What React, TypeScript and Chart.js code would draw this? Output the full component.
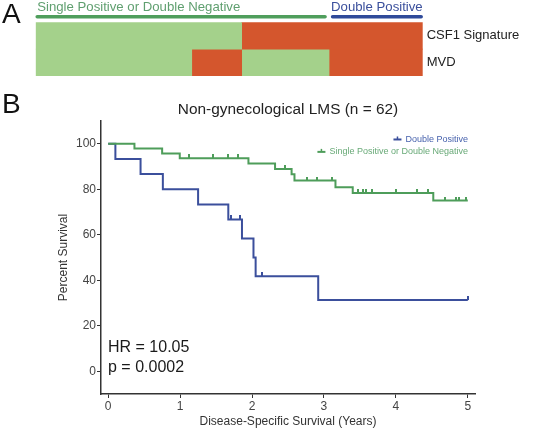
import React, { useEffect, useRef } from 'react';
import { Chart, registerables } from 'chart.js';

Chart.register(...registerables);

const FONT = '"Liberation Sans", Arial, Helvetica, sans-serif';

// ---------- Panel A data ----------
const heatRows = ['CSF1 Signature', 'MVD'];
const csf1Runs: [string, number][] = [['Low', 33], ['High', 29]];
const mvdRuns: [string, number][] = [['Low', 25], ['High', 8], ['Low', 14], ['High', 15]];
const groupNames = ['Single Positive or Double Negative', 'Double Positive'];
const groupSizes = [47, 15];

// ---------- Panel B data ----------
const kmTitle = 'Non-gynecological LMS (n = 62)';
const seriesLabels = ['Double Positive', 'Single Positive or Double Negative'];

const dpTimes = [0, 0.10, 0.45, 0.76, 1.25, 1.67, 1.86, 2.02, 2.05, 2.92, 5.0];
const dpSurv = [100, 93.3, 86.7, 80.0, 73.3, 66.7, 58.3, 50.0, 41.7, 31.3, 31.3];
const dpCensor = [1.71, 1.83, 2.14, 5.0];

const spTimes = [0, 0.365, 0.75, 0.995, 1.95, 2.32, 2.55, 2.59, 3.16, 3.40, 4.52, 5.0];
const spSurv = [100, 97.9, 95.7, 93.6, 91.3, 88.9, 86.6, 83.8, 80.9, 78.3, 75.0, 75.0];
const spCensor = [1.13, 1.46, 1.67, 1.81, 2.46, 2.76, 2.90, 3.11, 3.47, 3.54, 3.58, 3.67, 4.0, 4.29, 4.45, 4.68, 4.83, 4.88, 4.98];

const xTicks = [0, 1, 2, 3, 4, 5];
const yTicks = [0, 20, 40, 60, 80, 100];
const statLines = ['HR = 10.05', 'p = 0.0002'];

// ---------- styles ----------
const HEAT_GREEN = '#a4d18b';
const HEAT_RED = '#d4562d';
const GROUP_BAR = ['#4f9e5c', '#2f4a9a'];
const GROUP_TEXT = ['#5f9f6f', '#3a4f9c'];
const DP_COLOR = '#3b4f9c';
const SP_COLOR = '#4e9d5a';
const DP_TEXT = '#4762ad';
const SP_TEXT = '#69aa78';

function stepValue(times: number[], surv: number[], t: number) {
  let v = surv[0];
  for (let i = 0; i < times.length; i++) if (times[i] <= t) v = surv[i];
  return v;
}

function tickImage(color: string) {
  const c = document.createElement('canvas');
  c.width = 2;
  c.height = 8;
  const g = c.getContext('2d')!;
  g.fillStyle = color;
  g.fillRect(0, 0, 2, 4);
  return c;
}

function HeatMap() {
  const ref = useRef<HTMLCanvasElement>(null);
  useEffect(() => {
    const datasets: any[] = [];
    [csf1Runs, mvdRuns].forEach((runs, r) => {
      let start = 0;
      runs.forEach(([status, n]) => {
        datasets.push({
          data: heatRows.map((_, i) => (i === r ? [start, start + n] : null)),
          backgroundColor: status === 'High' ? HEAT_RED : HEAT_GREEN,
          borderWidth: 0,
          barPercentage: 1,
          categoryPercentage: 1,
          grouped: false,
        });
        start += n;
      });
    });
    const total = groupSizes.reduce((a, b) => a + b, 0);
    const groupPlugin = {
      id: 'groups',
      afterDraw(chart: any) {
        const { ctx } = chart;
        const xs = chart.scales.x;
        ctx.save();
        ctx.font = `13.2px ${FONT}`;
        ctx.textBaseline = 'alphabetic';
        let start = 0;
        groupNames.forEach((name, i) => {
          const end = start + groupSizes[i];
          const x0 = xs.getPixelForValue(start) + (i > 0 ? 2 : 0);
          const x1 = xs.getPixelForValue(end) - (i < groupNames.length - 1 ? 2.5 : 0);
          ctx.strokeStyle = GROUP_BAR[i];
          ctx.lineWidth = 3.5;
          ctx.lineCap = 'round';
          ctx.beginPath();
          ctx.moveTo(x0 + 1.5, 16.7);
          ctx.lineTo(x1 - 1.5, 16.7);
          ctx.stroke();
          ctx.fillStyle = GROUP_TEXT[i];
          if (i === 0) {
            ctx.textAlign = 'left';
            ctx.fillText(name, x0 + 1.5, 11.2);
          } else {
            ctx.textAlign = 'right';
            ctx.fillText(name, x1, 11.2);
          }
          start = end;
        });
        ctx.restore();
      },
    };
    const chart = new Chart(ref.current!, {
      type: 'bar',
      data: { labels: heatRows, datasets },
      options: {
        indexAxis: 'y',
        animation: false,
        responsive: false,
        layout: { padding: { left: 35.7, top: 22.3, bottom: 4, right: 0 } },
        scales: {
          x: { type: 'linear', min: 0, max: total, display: false },
          y: {
            type: 'category',
            position: 'right',
            grid: { display: false, drawTicks: false },
            border: { display: false },
            ticks: { font: { family: FONT, size: 13 }, color: '#222', padding: 4 },
            afterFit: (s: any) => {
              s.width = 111.3;
              s.paddingTop = 0;
              s.paddingBottom = 0;
            },
          },
        },
        plugins: { legend: { display: false }, tooltip: { enabled: false } },
      } as any,
      plugins: [groupPlugin],
    });
    return () => chart.destroy();
  }, []);
  return <canvas ref={ref} width={534} height={80} style={{ position: 'absolute', left: 0, top: 0, width: 534, height: 80 }} />;
}

function KMPlot() {
  const ref = useRef<HTMLCanvasElement>(null);
  useEffect(() => {
    const toPts = (t: number[], s: number[]) => t.map((x, i) => ({ x, y: s[i] }));
    const censorPts = (c: number[], t: number[], s: number[]) => c.map((x) => ({ x, y: stepValue(t, s, x) }));
    const lineDs = (label: string, color: string, data: any[]) => ({
      type: 'line',
      label,
      data,
      borderColor: color,
      borderWidth: 2,
      stepped: true,
      pointRadius: 0,
      fill: false,
    });
    const censorDs = (label: string, color: string, data: any[]) => ({
      type: 'line',
      label,
      data,
      showLine: false,
      pointStyle: tickImage(color),
      pointRadius: 4,
      borderColor: color,
      backgroundColor: color,
    });
    const datasets: any[] = [
      lineDs(seriesLabels[1], SP_COLOR, toPts(spTimes, spSurv)),
      lineDs(seriesLabels[0], DP_COLOR, toPts(dpTimes, dpSurv)),
      censorDs(seriesLabels[1] + ' censored', SP_COLOR, censorPts(spCensor, spTimes, spSurv)),
      censorDs(seriesLabels[0] + ' censored', DP_COLOR, censorPts(dpCensor, dpTimes, dpSurv)),
    ];
    const legendPlugin = {
      id: 'kmLegend',
      afterDraw(chart: any) {
        const { ctx, chartArea } = chart;
        ctx.save();
        ctx.font = `9px ${FONT}`;
        ctx.textAlign = 'right';
        ctx.textBaseline = 'middle';
        const right = chartArea.right - 7;
        const colors = [DP_COLOR, SP_COLOR];
        const tcolors = [DP_TEXT, SP_TEXT];
        seriesLabels.forEach((label, i) => {
          const y = chartArea.top + 18.5 + i * 12.4;
          ctx.fillStyle = tcolors[i];
          ctx.fillText(label, right, y);
          const w = ctx.measureText(label).width;
          const x1 = right - w - 4;
          const x0 = x1 - 8;
          ctx.strokeStyle = colors[i];
          ctx.lineWidth = 2;
          ctx.beginPath();
          ctx.moveTo(x0, y);
          ctx.lineTo(x1, y);
          ctx.stroke();
          ctx.lineWidth = 1.5;
          ctx.beginPath();
          ctx.moveTo((x0 + x1) / 2, y);
          ctx.lineTo((x0 + x1) / 2, y - 3);
          ctx.stroke();
        });
        ctx.fillStyle = '#1a1a1a';
        ctx.font = `16px ${FONT}`;
        ctx.textAlign = 'left';
        statLines.forEach((s, i) => {
          ctx.fillText(s, chartArea.left + 7, chartArea.top + 227 + i * 20);
        });
        ctx.restore();
      },
    };
    const tickFont = { family: FONT, size: 12 };
    const chart = new Chart(ref.current!, {
      type: 'line',
      data: { datasets },
      options: {
        animation: false,
        responsive: false,
        layout: { padding: { left: 56, right: 59, top: 15.4, bottom: 0 } },
        scales: {
          x: {
            type: 'linear',
            min: -0.1,
            max: 5.1,
            afterBuildTicks: (s: any) => {
              s.ticks = xTicks.map((v) => ({ value: v }));
            },
            afterFit: (s: any) => {
              s.height = 35;
            },
            grid: { drawOnChartArea: false, drawTicks: true, tickLength: 4, color: '#333', lineWidth: 1 },
            border: { display: true, color: '#333', width: 1.5 },
            ticks: { font: tickFont, color: '#444', padding: 1, maxRotation: 0 },
            title: {
              display: true,
              text: 'Disease-Specific Survival (Years)',
              font: tickFont,
              color: '#333',
              padding: { top: 0, bottom: 0 },
            },
          },
          y: {
            type: 'linear',
            min: -10,
            max: 110,
            afterBuildTicks: (s: any) => {
              s.ticks = yTicks.map((v) => ({ value: v }));
            },
            afterFit: (s: any) => {
              s.width = 45;
            },
            grid: { drawOnChartArea: false, drawTicks: true, tickLength: 4, color: '#333', lineWidth: 1 },
            border: { display: true, color: '#333', width: 1.5 },
            ticks: { font: tickFont, color: '#444', padding: 1 },
            title: {
              display: true,
              text: 'Percent Survival',
              font: tickFont,
              color: '#333',
              padding: { top: 0, bottom: 0 },
            },
          },
        },
        plugins: {
          legend: { display: false },
          tooltip: { enabled: false },
          title: {
            display: true,
            text: kmTitle,
            fullSize: false,
            color: '#222',
            font: { family: FONT, size: 15.4, weight: 'normal' },
            padding: { top: 0, bottom: 2.1 },
          },
        },
      } as any,
      plugins: [legendPlugin],
    });
    return () => chart.destroy();
  }, []);
  return <canvas ref={ref} width={534} height={344} style={{ position: 'absolute', left: 0, top: 85, width: 534, height: 344 }} />;
}

const panelLetter: React.CSSProperties = {
  position: 'absolute',
  left: 2,
  fontFamily: FONT,
  fontSize: 28,
  lineHeight: '28px',
  color: '#111',
};

export default function App() {
  return (
    <div style={{ position: 'fixed', left: 0, top: 0, width: 534, height: 429, background: '#fff', overflow: 'hidden' }}>
      <HeatMap />
      <KMPlot />
      <div style={{ ...panelLetter, top: 0 }}>A</div>
      <div style={{ ...panelLetter, top: 89.7 }}>B</div>
    </div>
  );
}
